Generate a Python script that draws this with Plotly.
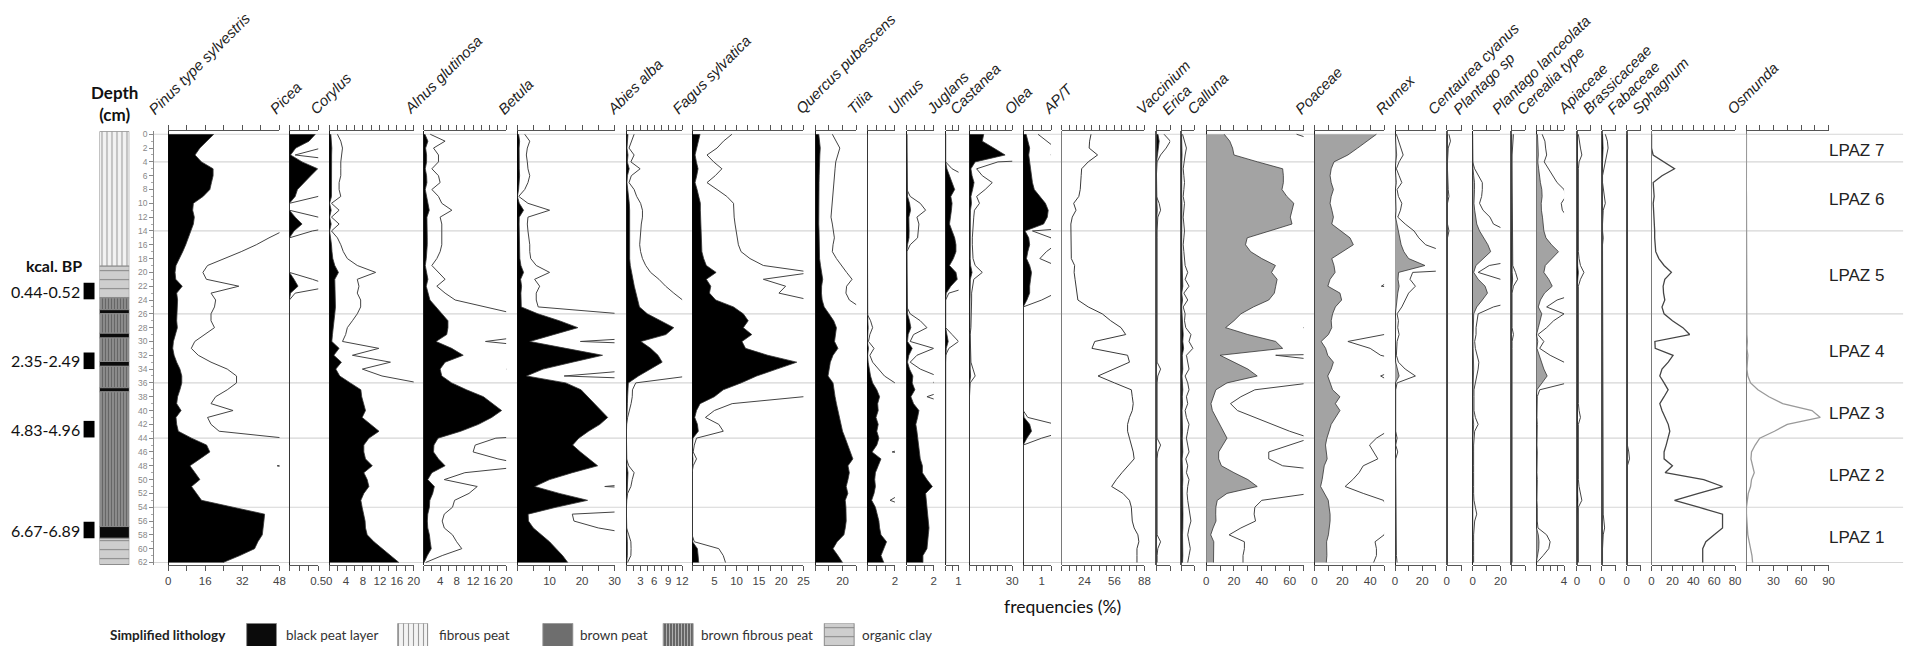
import plotly.graph_objects as go

W, H = 1920, 646

# sample depths (cm)
depth = [0, 1, 2, 3, 4, 5, 6, 7, 8, 9,
         10, 11, 12, 13, 14, 15, 16, 17, 18, 19,
         20, 21, 22, 23, 24, 25, 26, 27, 28, 29,
         30, 31, 32, 33, 34, 35, 36, 37, 38, 39,
         40, 41, 42, 43, 44, 45, 46, 47, 48, 49,
         50, 51, 52, 53, 54, 55, 56, 57, 58, 59,
         60, 61, 62]

# pollen / spore frequencies (%)
pinus = [19.7, 16.6, 13.7, 11.6, 14.4, 19.4, 19.4, 18.7, 18.0, 15.1,
         10.9, 10.6, 11.3, 10.9, 9.9, 8.7, 7.6, 6.3, 4.9, 3.4,
         3.0, 3.3, 6.1, 3.7, 4.1, 4.0, 3.7, 3.7, 4.0, 3.2,
         2.3, 2.0, 2.6, 3.7, 5.1, 5.9, 5.9, 5.1, 4.1, 3.7,
         5.6, 3.4, 3.7, 4.4, 10.1, 16.6, 18.0, 13.7, 9.4, 11.6,
         13.7, 10.1, 12.3, 14.4, 28.0, 41.6, 41.3, 40.9, 40.6, 38.7,
         37.3, 30.9, 23.7]
picea = [0.45, 0.34, 0.11, 0.02, 0.22, 0.49, 0.37, 0.25, 0.14, 0.10,
         0.0, 0.0, 0.10, 0.22, 0.08, 0.0, 0.0, 0.0, 0.0, 0.0,
         0.0, 0.08, 0.15, 0.02, 0.0, 0.0, 0.0, 0.0, 0.0, 0.0,
         0.0, 0.0, 0.0, 0.0, 0.0, 0.0, 0.0, 0.0, 0.0, 0.0,
         0.0, 0.0, 0.0, 0.0, 0.0, 0.0, 0.0, 0.0, 0.0, 0.0,
         0.0, 0.0, 0.0, 0.0, 0.0, 0.0, 0.0, 0.0, 0.0, 0.0,
         0.0, 0.0, 0.0]
corylus = [0.39, 0.55, 0.63, 0.58, 0.55, 0.55, 0.55, 0.47, 0.47, 0.55,
           0.11, 0.47, 0.11, 0.47, 0.11, 0.39, 0.55, 0.67, 0.86, 1.33,
           2.2, 1.33, 1.41, 1.33, 1.49, 1.49, 1.33, 1.1, 0.86, 0.78,
           0.63, 2.35, 1.1, 2.9, 1.57, 2.5, 5.0, 7.5, 7.7, 8.2,
           8.6, 7.8, 9.8, 11.8, 9.4, 8.2, 8.2, 8.6, 10.2, 8.2,
           9.0, 9.4, 8.2, 7.5, 7.8, 8.2, 8.5, 8.6, 9.0, 10.6,
           12.5, 14.5, 16.5]
alnus = [0.32, 1.04, 0.48, 0.72, 0.72, 0.4, 0.72, 0.8, 0.4, 0.72,
         0.88, 1.37, 0.8, 0.88, 0.88, 0.88, 0.88, 0.8, 0.64, 0.4,
         0.72, 1.04, 0.64, 1.04, 1.53, 3.0, 4.4, 5.9, 5.9, 5.6,
         3.0, 6.8, 9.6, 5.2, 4.0, 4.4, 6.8, 10.4, 14.5, 16.7,
         18.9, 16.5, 13.3, 9.0, 3.5, 2.5, 2.4, 3.6, 5.2, 2.0,
         1.0, 2.6, 2.2, 1.5, 1.4, 1.0, 0.9, 1.0, 1.4, 1.6,
         1.85, 0.9, 0.1]
betula = [0.47, 0.78, 0.63, 0.57, 0.63, 0.67, 0.78, 0.67, 0.47, 0.1,
          0.67, 2.0, 0.67, 0.63, 0.67, 0.73, 0.78, 0.78, 0.84, 1.18,
          2.0, 1.08, 1.39, 1.18, 1.18, 1.3, 6.4, 13.0, 18.7, 11.0,
          3.9, 15.0, 26.3, 17.0, 8.0, 2.9, 15.0, 19.7, 21.7, 24.0,
          25.8, 27.9, 25.5, 22.0, 19.0, 17.1, 19.5, 22.0, 24.8, 17.0,
          10.0, 5.4, 13.0, 21.7, 12.0, 3.4, 3.5, 5.0, 7.5, 10.0,
          12.0, 14.0, 15.6]
abies = [0.33, 0.21, 0.11, 0.33, 0.19, 0.59, 0.21, 0.11, 0.33, 0.44,
         0.61, 0.69, 0.69, 0.64, 0.61, 0.59, 0.57, 0.61, 0.69, 0.83,
         1.04, 1.4, 1.69, 2.04, 2.36, 2.8, 4.5, 7.4, 10.2, 8.5,
         3.1, 5.2, 6.8, 7.7, 5.0, 2.6, 0.4, 0.26, 0.25, 0.2,
         0.11, 0.05, 0.0, 0.0, 0.0, 0.0, 0.0, 0.0, 0.1, 0.33,
         0.25, 0.19, 0.05, 0.0, 0.0, 0.0, 0.0, 0.0, 0.1, 0.19,
         0.2, 0.19, 0.05]
fagus = [1.79, 1.41, 1.12, 0.67, 0.97, 1.34, 1.04, 0.67, 1.12, 1.56,
         1.86, 1.86, 1.89, 1.93, 1.98, 2.02, 2.08, 2.2, 2.6, 3.2,
         5.4, 3.2, 4.2, 3.9, 5.3, 9.3, 11.5, 12.6, 11.5, 13.4,
         11.2, 12.0, 17.0, 23.5, 19.0, 14.5, 11.0, 7.0, 5.0, 1.8,
         1.0, 0.6, 1.2, 1.4, 0.2, 0.1, 0.05, 0.2, 0.05, 0.0,
         0.0, 0.0, 0.0, 0.0, 0.0, 0.0, 0.0, 0.0, 0.0, 0.1,
         1.2, 1.4, 1.5]
quercus = [2.5, 3.0, 3.6, 3.3, 3.0, 2.9, 2.8, 2.7, 2.6, 2.5,
           2.5, 2.4, 2.3, 2.5, 2.7, 2.8, 2.6, 2.5, 3.1, 3.8,
           4.6, 5.4, 4.6, 4.5, 5.0, 6.5, 10.0, 13.5, 15.5, 15.0,
           14.1, 16.6, 13.0, 11.0, 10.0, 9.3, 13.0, 13.5, 14.5, 15.5,
           16.6, 17.5, 18.5, 20.0, 22.0, 24.0, 26.0, 27.6, 24.0, 25.0,
           24.0, 22.7, 23.9, 22.0, 22.5, 22.7, 22.7, 22.0, 21.0, 16.0,
           13.0, 16.6, 20.0]
tilia = [0, 0, 0, 0, 0, 0, 0, 0, 0, 0,
         0, 0, 0, 0, 0, 0, 0, 0, 0, 0,
         0, 0, 0, 0, 0, 0, 0, 0.05, 0.08, 0.04,
         0.02, 0.1, 0.04, 0.08, 0.17, 0.25, 0.4, 0.7, 0.9, 0.76,
         0.8, 0.64, 0.8, 0.7, 0.85, 0.7, 0.36, 1.0, 0.8, 0.6,
         0.55, 0.6, 0.5, 0.33, 0.6, 0.75, 0.85, 0.9, 1.0, 1.4,
         1.2, 1.0, 1.2]
ulmus = [0, 0, 0, 0, 0, 0, 0, 0, 0, 0.05,
         0.2, 0.28, 0.15, 0.18, 0.17, 0.16, 0.05, 0, 0, 0,
         0, 0, 0, 0, 0, 0, 0.05, 0.2, 0.3, 0.1,
         0.05, 0.4, 0.15, 0.05, 0.2, 0.45, 0.4, 0.6, 0.3, 0.5,
         0.9, 0.8, 0.67, 0.75, 0.8, 0.85, 0.91, 1.0, 1.16, 1.16,
         1.5, 1.9, 1.4, 1.45, 1.5, 1.55, 1.6, 1.65, 1.6, 1.53,
         1.5, 1.2, 1.2]
juglans = [0, 0, 0, 0, 0, 0.1, 0.3, 0.5, 0.7, 0.4,
           0.5, 0.45, 0.35, 0.3, 0.5, 0.7, 0.8, 0.8, 0.6, 0.3,
           0.8, 0.9, 0.4, 0.05, 0, 0, 0, 0, 0, 0.1,
           0.2, 0.05, 0, 0, 0, 0, 0, 0, 0, 0,
           0, 0, 0, 0, 0, 0, 0, 0, 0, 0,
           0, 0, 0, 0, 0, 0, 0, 0, 0, 0,
           0, 0, 0]
castanea = [10, 9, 17, 25, 4, 1.0, 1.8, 3.2, 2.2, 1.0,
            1.4, 0.7, 0.6, 0.5, 0.4, 0.4, 0.4, 0.4, 0.5, 0.8,
            1.8, 0.6, 0.4, 0.3, 0.3, 0.3, 0.3, 0.3, 0.2, 0.1,
            0.1, 0.1, 0.1, 0.2, 0.5, 0.8, 0.1, 0, 0, 0,
            0, 0, 0, 0, 0, 0, 0, 0, 0, 0,
            0, 0, 0, 0, 0, 0, 0, 0, 0, 0,
            0, 0, 0]
olea = [0.16, 0.25, 0.35, 0.3, 0.35, 0.4, 0.45, 0.5, 0.6, 0.9,
        1.2, 1.35, 1.3, 1.1, 0.1, 0.3, 0.35, 0.25, 0.18, 0.35,
        0.45, 0.4, 0.35, 0.35, 0.2, 0, 0, 0, 0, 0,
        0, 0, 0, 0, 0, 0, 0, 0, 0, 0,
        0, 0.05, 0.35, 0.45, 0.2, 0, 0, 0, 0, 0,
        0, 0, 0, 0, 0, 0, 0, 0, 0, 0,
        0, 0, 0]
apt = [31, 29.5, 29, 38, 28, 21, 20.5, 20, 19.5, 18,
       12.5, 15, 11, 9.5, 9.5, 9.5, 9.5, 9.5, 10, 13.5,
       13, 14, 15, 16, 17, 28, 43, 52, 63, 68,
       35, 32, 70, 72, 55, 38.5, 56, 74, 75, 76,
       75, 72, 70, 70, 72, 74, 76, 77, 70, 64,
       58, 53, 65, 72, 74, 74.5, 75, 77, 81, 82,
       80, 80, 80]
vaccinium = [0.11, 0.2, 0.14, 0.06, 0.01, 0, 0, 0, 0, 0,
             0.04, 0.06, 0.02, 0.01, 0.01, 0.01, 0.01, 0.01, 0.01, 0.01,
             0.01, 0.01, 0.01, 0.01, 0.01, 0.01, 0.01, 0.01, 0.01, 0.01,
             0.01, 0.01, 0.01, 0.01, 0.06, 0.02, 0.01, 0.01, 0.01, 0.01,
             0.01, 0.01, 0.01, 0.01, 0.01, 0.06, 0.02, 0.01, 0.01, 0.01,
             0.01, 0.01, 0.01, 0.01, 0.01, 0.01, 0.01, 0.01, 0.01, 0.06,
             0.02, 0.01, 0.01]
erica = [0.02, 0.05, 0.08, 0.06, 0.04, 0.03, 0.04, 0.05, 0.04, 0.03,
         0.05, 0.04, 0.03, 0.04, 0.05, 0.04, 0.03, 0.04, 0.05, 0.06,
         0.1, 0.06, 0.12, 0.04, 0.1, 0.03, 0.06, 0.05, 0.07, 0.15,
         0.12, 0.18, 0.08, 0.1, 0.12, 0.06, 0.1, 0.12, 0.08, 0.1,
         0.06, 0.08, 0.12, 0.1, 0.08, 0.1, 0.12, 0.07, 0.1, 0.08,
         0.12, 0.1, 0.09, 0.1, 0.12, 0.13, 0.15, 0.12, 0.1, 0.12,
         0.14, 0.12, 0.1]
calluna = [13, 17, 19, 20, 37, 55, 55.5, 55.5, 54.5, 58,
           63, 61.5, 60.5, 61.7, 45, 29.5, 28.3, 32, 40, 49.8,
           47, 51, 50, 49, 45, 34, 25, 20, 14, 30,
           50, 55, 10, 20, 30, 36.7, 15, 7, 5, 3.5,
           4.5, 7, 9.5, 12, 15, 12, 9, 9, 11, 20,
           30, 36.7, 15, 8, 7, 6.9, 7.1, 5, 3.3, 5.5,
           5.5, 5.3, 5.3]
poaceae = [44.5, 38, 31, 24, 14, 12, 11.2, 12, 13.6, 12,
           11.2, 12.5, 13.6, 12.4, 19, 25.5, 27.9, 20, 12.4, 14,
           14.8, 11.2, 9.6, 18.3, 19.5, 15, 13, 12, 12.4, 10,
           4.8, 8, 9.5, 13.6, 12, 9.5, 11, 13, 18.3, 15,
           18.3, 15, 12, 10.5, 8.9, 7.9, 8.5, 9.1, 7, 6.4,
           5.5, 4.4, 7, 9.9, 10.5, 11.2, 11.2, 10.5, 10, 8.7,
           8.9, 8.9, 8.5]
rumex = [0.2, 0.5, 0.8, 1.2, 0.6, 0.2, 0.6, 1.0, 0.3, 0.5,
         1.0, 0.8, 0.4, 1.5, 2.8, 3.5, 4.5, 6.5, 10, 22,
         2.6, 2.2, 3, 2, 1.5, 1, 0.3, 0.5, 0.4, 0.6,
         0.3, 0.2, 0.2, 0.5, 1.5, 3.0, 0.3, 0.1, 0.1, 0.1,
         0.1, 0.1, 0.1, 0.1, 0.3, 0.1, 0.4, 0.1, 0.1, 0.1,
         0.1, 0.1, 0.1, 0.1, 0.1, 0.1, 0.2, 0.1, 0.1, 0.1,
         0.1, 0.2, 0.3]
centaurea = [0.03, 0.05, 0.02, 0.01, 0.01, 0.01, 0.01, 0.01, 0.02, 0.03,
             0.01, 0.01, 0.01, 0.01, 0.03, 0.01, 0.01, 0.01, 0.01, 0.01,
             0.01, 0.01, 0.01, 0.01, 0.01, 0.02, 0.01, 0.01, 0.01, 0.01,
             0.01, 0.01, 0.01, 0.01, 0.01, 0.01, 0.01, 0.01, 0.01, 0.01,
             0.01, 0.01, 0.01, 0.01, 0.01, 0.01, 0.01, 0.01, 0.01, 0.01,
             0.01, 0.01, 0.01, 0.01, 0.01, 0.01, 0.01, 0.01, 0.01, 0.01,
             0.01, 0.01, 0.01]
plantago_sp = [0, 0, 0, 0, 0, 0.3, 0.8, 1.4, 1.4, 1.3,
               1.0, 1.5, 2.5, 3.0, 5, 8, 11, 13, 8, 2.4,
               0.8, 4, 9, 10.7, 7, 3, 0.8, 0.6, 0.5, 0.5,
               0.3, 0.4, 0.6, 0.9, 0.8, 0.6, 0.3, 0.2, 0.2, 0.2,
               0.2, 0.4, 0.8, 0.3, 0.2, 0.15, 0.15, 0.2, 0.15, 0.15,
               0.2, 0.15, 0.15, 0.2, 0.4, 0.6, 0.3, 0.2, 0.15, 0.15,
               0.2, 0.15, 0.15]
plantago_lanc = [0.03, 0.02, 0.01, 0.01, 0.01, 0.01, 0.01, 0.01, 0.01, 0.01,
                 0.01, 0.01, 0.01, 0.01, 0.01, 0.01, 0.01, 0.01, 0.01, 0.02,
                 0.06, 0.09, 0.03, 0.01, 0.01, 0.01, 0.01, 0.01, 0.01, 0.03,
                 0.01, 0.01, 0.01, 0.01, 0.02, 0.01, 0.01, 0.01, 0.01, 0.01,
                 0.01, 0.01, 0.01, 0.01, 0.01, 0.01, 0.01, 0.02, 0.01, 0.01,
                 0.01, 0.01, 0.01, 0.01, 0.01, 0.01, 0.01, 0.01, 0.01, 0.01,
                 0.01, 0.01, 0.01]
cerealia = [0.17, 0.25, 0.27, 0.3, 0.23, 0.35, 0.46, 0.6, 0.8, 0.85,
            0.72, 0.75, 0.9, 1.0, 1.1, 1.4, 2.2, 3.2, 2.2, 1.3,
            1.1, 1.8, 2.3, 1.2, 0.6, 0.3, 0.8, 0.5, 0.3, 0.05,
            0.22, 0.1, 0.4, 0.8, 1.1, 1.57, 0.9, 0.1, 0.03, 0.02,
            0.03, 0.02, 0.03, 0.02, 0.03, 0.02, 0.03, 0.02, 0.03, 0.02,
            0.03, 0.02, 0.03, 0.02, 0.03, 0.02, 0.03, 0.05, 0.3, 0.4,
            0.36, 0.2, 0.02]
apiaceae = [0.02, 0.03, 0.05, 0.07, 0.03, 0.02, 0.02, 0.01, 0.02, 0.02,
            0.02, 0.01, 0.02, 0.02, 0.01, 0.02, 0.02, 0.02, 0.03, 0.05,
            0.1, 0.05, 0.02, 0.02, 0.01, 0.02, 0.02, 0.01, 0.02, 0.02,
            0.02, 0.01, 0.02, 0.02, 0.02, 0.01, 0.02, 0.02, 0.01, 0.02,
            0.03, 0.05, 0.02, 0.02, 0.01, 0.02, 0.02, 0.02, 0.01, 0.02,
            0.02, 0.03, 0.05, 0.07, 0.02, 0.02, 0.01, 0.02, 0.02, 0.02,
            0.02, 0.02, 0.02]
brassicaceae = [0.05, 0.08, 0.09, 0.07, 0.04, 0.02, 0.01, 0.01, 0.02, 0.03,
                0.05, 0.02, 0.01, 0.01, 0.01, 0.02, 0.01, 0.01, 0.01, 0.01,
                0.01, 0.02, 0.01, 0.01, 0.01, 0.01, 0.02, 0.01, 0.01, 0.01,
                0.01, 0.01, 0.01, 0.02, 0.01, 0.01, 0.01, 0.01, 0.01, 0.02,
                0.01, 0.01, 0.01, 0.01, 0.01, 0.01, 0.01, 0.01, 0.01, 0.01,
                0.01, 0.01, 0.01, 0.01, 0.01, 0.02, 0.03, 0.04, 0.02, 0.01,
                0.01, 0.01, 0.01]
fabaceae = [0.01, 0.01, 0.01, 0.01, 0.01, 0.01, 0.01, 0.01, 0.01, 0.01,
            0.01, 0.01, 0.01, 0.01, 0.01, 0.01, 0.01, 0.01, 0.01, 0.01,
            0.01, 0.01, 0.01, 0.01, 0.01, 0.01, 0.01, 0.01, 0.01, 0.01,
            0.01, 0.01, 0.01, 0.01, 0.01, 0.01, 0.01, 0.01, 0.01, 0.01,
            0.01, 0.01, 0.01, 0.01, 0.01, 0.01, 0.03, 0.04, 0.01, 0.01,
            0.01, 0.01, 0.01, 0.01, 0.01, 0.01, 0.02, 0.01, 0.01, 0.01,
            0.01, 0.01, 0.01]
sphagnum = [0, 0, 0, 1.5, 12, 22, 10, 1.6, 2, 2.5,
            1.6, 2, 2.5, 3, 3, 3, 3.2, 4, 7, 12,
            19, 12.7, 11.1, 11.5, 12.7, 10, 12, 20, 30, 36.5,
            3.2, 3.5, 20.6, 16, 10, 7.9, 12, 15.9, 12, 7.9,
            10, 13, 16, 17.5, 16, 14, 12, 12, 20, 13,
            50, 68, 45, 22, 45, 68, 68, 68, 60, 52,
            49, 49, 49]
osmunda = [0.5, 0.4, 0.5, 0.4, 0.5, 0.4, 0.5, 0.5, 0.4, 0.5,
           0.5, 0.4, 0.5, 0.5, 0.4, 0.5, 0.5, 0.4, 0.5, 0.5,
           0.4, 0.5, 0.5, 0.4, 0.5, 0.5, 0.4, 0.5, 0.5, 1.0,
           1.5, 1.0, 2.0, 1.5, 1.0, 2.0, 5, 13, 25, 40,
           72, 81, 45, 31, 15, 10, 6, 5.4, 7, 9,
           6, 5, 2.5, 1.5, 0.5, 0.5, 1, 1.5, 2, 3.5,
           5.4, 6.5, 7.2]

# lithology (cm)
litho_top = [-0.4, 19.1, 23.7, 25.4, 26.0, 28.8, 29.5, 32.9, 33.6, 36.7, 37.3, 56.8, 58.5]
litho_base = [19.1, 23.7, 25.4, 26.0, 28.8, 29.5, 32.9, 33.6, 36.7, 37.3, 56.8, 58.5, 62.3]
litho_kind = ["fibrous peat", "organic clay", "brown fibrous peat", "black peat layer",
              "brown fibrous peat", "black peat layer", "brown fibrous peat", "black peat layer",
              "brown fibrous peat", "black peat layer", "brown fibrous peat", "black peat layer",
              "organic clay"]
legend_kinds = ["black peat layer", "fibrous peat", "brown peat", "brown fibrous peat", "organic clay"]

# radiocarbon ages
age_text = ["0.44-0.52", "2.35-2.49", "4.83-4.96", "6.67-6.89"]
age_depth = [22.7, 32.8, 42.7, 57.3]

# pollen zones
zone_bounds = [0, 4, 14, 26, 36, 44, 54, 62]
zone_names = ["LPAZ 7", "LPAZ 6", "LPAZ 5", "LPAZ 4", "LPAZ 3", "LPAZ 2", "LPAZ 1"]

EXAG = 5  # exaggeration of the outline curves

# name, values, left px, right px, axis max, tick step, labelled ticks, style, exaggerated
panels = [
    ("Pinus type sylvestris", pinus, 158, 270, 48, 8, [0, 16, 32, 48], "black", True),
    ("Picea", picea, 280, 309, 0.5, 1 / 6, [0.5], "black", True),
    ("Corylus", corylus, 320, 405, 20, 2, [0, 4, 8, 12, 16, 20], "black", True),
    ("Alnus glutinosa", alnus, 415, 498, 20, 2, [4, 8, 12, 16, 20], "black", True),
    ("Betula", betula, 509, 607, 30, 5, [10, 20, 30], "black", True),
    ("Abies alba", abies, 619, 675, 12, 1.5, [3, 6, 9, 12], "black", True),
    ("Fagus sylvatica", fagus, 685, 797, 25, 2.5, [5, 10, 15, 20, 25], "black", True),
    ("Quercus pubescens", quercus, 809, 850, 30, 10, [20], "black", True),
    ("Tilia", tilia, 861, 889, 2, 2 / 3, [2], "black", True),
    ("Ulmus", ulmus, 901, 928, 2, 2 / 3, [2], "black", True),
    ("Juglans", juglans, 940, 953, 1, 0.5, [1], "black", True),
    ("Castanea", castanea, 964, 1007, 30, 5, [30], "black", True),
    ("Olea", olea, 1018, 1046, 1.5, 0.5, [1], "black", True),
    ("AP/T", apt, 1057, 1140, 88, 8, [24, 56, 88], "line", False),
    ("Vaccinium", vaccinium, 1152, 1166, 1, 1, [], "small", True),
    ("Erica", erica, 1177, 1190, 1, 1, [], "small", True),
    ("Calluna", calluna, 1202, 1300, 70, 10, [0, 20, 40, 60], "grey", True),
    ("Poaceae", poaceae, 1311, 1381, 50, 10, [0, 20, 40], "grey", True),
    ("Rumex", rumex, 1392, 1433, 30, 10, [0, 20], "grey", True),
    ("Centaurea cyanus", centaurea, 1444, 1459, 1, 1, [0], "small", True),
    ("Plantago sp", plantago_sp, 1470, 1498, 20, 10, [0, 20], "grey", True),
    ("Plantago lanceolata", plantago_lanc, 1509, 1523, 1, 1, [], "small", True),
    ("Cerealia type", cerealia, 1534, 1562, 4, 1, [4], "grey", True),
    ("Apiaceae", apiaceae, 1575, 1589, 1, 1, [0], "small", True),
    ("Brassicaceae", brassicaceae, 1600, 1614, 1, 1, [0], "small", True),
    ("Fabaceae", fabaceae, 1625, 1639, 1, 1, [0], "small", True),
    ("Sphagnum", sphagnum, 1650, 1734, 80, 10, [0, 20, 40, 60, 80], "darkline", False),
    ("Osmunda", osmunda, 1745, 1828, 90, 15, [30, 60, 90], "lightline", False),
]

for p in panels:
    assert len(p[1]) == len(depth), p[0]

litho_style = {  # background, pattern colour, shape, size, solidity
    "black peat layer": ("#0b0b0b", "#0b0b0b", "", 4, 0.3),
    "fibrous peat": ("#f3f3f3", "#a0a0a0", "|", 5, 0.22),
    "brown peat": ("#6e6e6e", "#6e6e6e", "", 4, 0.3),
    "brown fibrous peat": ("#5e5e5e", "#262626", "|", 3, 0.4),
    "organic clay": ("#cecece", "#7a7a7a", "-", 9, 0.12),
}


def px(x):
    return x / W


def py(y):
    return 1 - y / H


TICKFONT = dict(family="Liberation Sans, Arial", size=11.5, color="#444")
LATO = "Lato, Noto Sans, sans-serif"

fig = go.Figure()
lay = {}
annotations = []
shapes = []

# depth axis
lay["yaxis"] = dict(domain=[py(558.7), py(121.9)], range=[62.4, -0.45], anchor="free",
                    position=px(143), side="left", showline=True, linecolor="#888",
                    linewidth=1, ticks="outside", ticklen=4, tickcolor="#888",
                    tickmode="linear", tick0=0, dtick=2,
                    minor=dict(ticks="outside", ticklen=2, dtick=1, tickcolor="#aaa"),
                    tickfont=dict(family="Liberation Sans, Arial", size=8.5, color="#888"),
                    showgrid=False, zeroline=False)

# lithology column
lay["xaxis"] = dict(domain=[px(89), px(119)], range=[0, 1], visible=False, anchor="y")
fig.add_trace(go.Bar(
    x=[0.5] * len(litho_top), y=[b - t for t, b in zip(litho_top, litho_base)], base=litho_top,
    width=1, xaxis="x", yaxis="y", hoverinfo="skip",
    marker=dict(color=[litho_style[k][0] for k in litho_kind],
                line=dict(color="#8a8a8a", width=1),
                pattern=dict(shape=[litho_style[k][2] for k in litho_kind],
                             bgcolor=[litho_style[k][0] for k in litho_kind],
                             fgcolor=[litho_style[k][1] for k in litho_kind],
                             size=[litho_style[k][3] for k in litho_kind],
                             solidity=[litho_style[k][4] for k in litho_kind]))))

fill_colour = {"black": "#000000", "small": "#000000", "grey": "#a3a3a3"}
line_style = {"line": ("#3a3a3a", 1.0), "darkline": ("#454545", 1.3), "lightline": ("#9a9a9a", 1.3)}

aid = 1
for name, vals, left, right, top, step, labelled, kind, exag in panels:
    aid += 1
    n = int(round(top / step))
    tv = [i * step for i in range(n + 1)]
    tt = [f"{v:g}" if any(abs(v - l) < 1e-9 for l in labelled) else "" for v in tv]
    if kind in ("line", "darkline", "lightline"):
        zc, zw = "#7a7a7a", 1.3
    elif kind == "small":
        zc, zw = "#555", 1.6
    else:
        zc, zw = "#222", 1.0
    lay[f"xaxis{aid}"] = dict(domain=[px(left), px(right)], range=[0, top], anchor="y",
                              side="bottom", showline=True, linecolor="#555", linewidth=1,
                              mirror="ticks", ticks="outside", ticklen=5, tickwidth=1,
                              tickcolor="#555", tickmode="array", tickvals=tv, ticktext=tt,
                              tickfont=TICKFONT, showgrid=False, zeroline=True,
                              zerolinecolor=zc, zerolinewidth=zw)
    base_id = aid
    if kind in line_style:
        c, w = line_style[kind]
        fig.add_trace(go.Scatter(x=vals, y=depth, xaxis=f"x{base_id}", yaxis="y", mode="lines",
                                 line=dict(color=c, width=w), hoverinfo="skip"))
    else:
        fig.add_trace(go.Scatter(x=vals, y=depth, xaxis=f"x{base_id}", yaxis="y", mode="lines",
                                 fill="tozerox", fillcolor=fill_colour[kind],
                                 line=dict(color="#333", width=0.8), hoverinfo="skip"))
    if exag:
        aid += 1
        lay[f"xaxis{aid}"] = dict(overlaying=f"x{base_id}", range=[0, top / EXAG],
                                  anchor="y", visible=False)
        fig.add_trace(go.Scatter(x=vals, y=depth, xaxis=f"x{aid}", yaxis="y", mode="lines",
                                 line=dict(color="#444", width=1.0), hoverinfo="skip"))
    annotations.append(dict(text=name, x=px(left - 23), y=py(108), xref="paper", yref="paper",
                            xanchor="left", yanchor="bottom", textangle=-45, showarrow=False,
                            borderpad=0, borderwidth=0,
                            font=dict(family="Liberation Sans, Arial", size=15, color="#222",
                                      style="italic")))

# legend swatches for the lithology
aid += 1
leg_x = [252, 404, 550, 671, 833]
leg_text_x = [275, 428, 570, 692, 854]
lay[f"xaxis{aid}"] = dict(domain=[0, 1], range=[0, W], anchor="y2", visible=False)
lay["yaxis2"] = dict(domain=[py(642), py(617)], range=[0, 1], anchor=f"x{aid}", visible=False)
fig.add_trace(go.Bar(
    x=leg_x, y=[1] * len(legend_kinds), width=30, xaxis=f"x{aid}", yaxis="y2", hoverinfo="skip",
    marker=dict(color=[litho_style[k][0] for k in legend_kinds],
                line=dict(color="#8a8a8a", width=1),
                pattern=dict(shape=[litho_style[k][2] for k in legend_kinds],
                             bgcolor=[litho_style[k][0] for k in legend_kinds],
                             fgcolor=[litho_style[k][1] for k in legend_kinds],
                             size=[litho_style[k][3] for k in legend_kinds],
                             solidity=[litho_style[k][4] for k in legend_kinds]))))
for k, tx in zip(legend_kinds, leg_text_x):
    annotations.append(dict(text=k, x=px(tx), y=py(629), xref="paper", yref="paper",
                            xanchor="left", yanchor="middle", showarrow=False,
                            font=dict(family=LATO, size=13.5, color="#333")))
annotations.append(dict(text="<b>Simplified lithology</b>", x=px(98), y=py(629), xref="paper",
                        yref="paper", xanchor="left", yanchor="middle", showarrow=False,
                        font=dict(family=LATO, size=13.5, color="#222")))

# zone lines and labels
for zb in zone_bounds:
    shapes.append(dict(type="line", xref="paper", yref="y", x0=px(143), x1=px(1903), y0=zb, y1=zb,
                       line=dict(color="#d6d6d6", width=1.2), layer="below"))
for i, zn in enumerate(zone_names):
    annotations.append(dict(text=zn, x=px(1856), y=(zone_bounds[i] + zone_bounds[i + 1]) / 2 + 0.4,
                            xref="paper", yref="y", xanchor="center", yanchor="middle",
                            showarrow=False,
                            font=dict(family="Liberation Sans, Arial", size=17, color="#222")))
shapes.append(dict(type="line", xref="paper", yref="y", x0=px(1916), x1=px(1916), y0=0, y1=62,
                   line=dict(color="#9a9a9a", width=2)))

# ages
for t, d in zip(age_text, age_depth):
    shapes.append(dict(type="rect", xref="paper", yref="y", x0=px(73), x1=px(84), y0=d - 1.2,
                       y1=d + 1.2, fillcolor="#000", line=dict(width=0)))
    annotations.append(dict(text=t, x=px(71), y=d, xref="paper", yref="y", xanchor="right",
                            yanchor="middle", showarrow=False,
                            font=dict(family=LATO, size=16, color="#111")))
annotations.append(dict(text="<b>kcal. BP</b>", x=px(43), y=py(257), xref="paper", yref="paper",
                        xanchor="center", yanchor="middle", showarrow=False,
                        font=dict(family=LATO, size=16, color="#111")))
annotations.append(dict(text="<b>Depth<br>(cm)</b>", x=px(104), y=py(94), xref="paper",
                        yref="paper", xanchor="center", yanchor="middle", showarrow=False,
                        font=dict(family=LATO, size=17, color="#111")))
annotations.append(dict(text="frequencies (%)", x=px(1058), y=py(600), xref="paper", yref="paper",
                        xanchor="center", yanchor="middle", showarrow=False,
                        font=dict(family=LATO, size=17.5, color="#111")))

fig.update_layout(width=W, height=H, margin=dict(l=0, r=0, t=0, b=0), autosize=False,
                  paper_bgcolor="white", plot_bgcolor="white", showlegend=False,
                  barmode="overlay", annotations=annotations, shapes=shapes, **lay)

fig.write_html("out.html")
